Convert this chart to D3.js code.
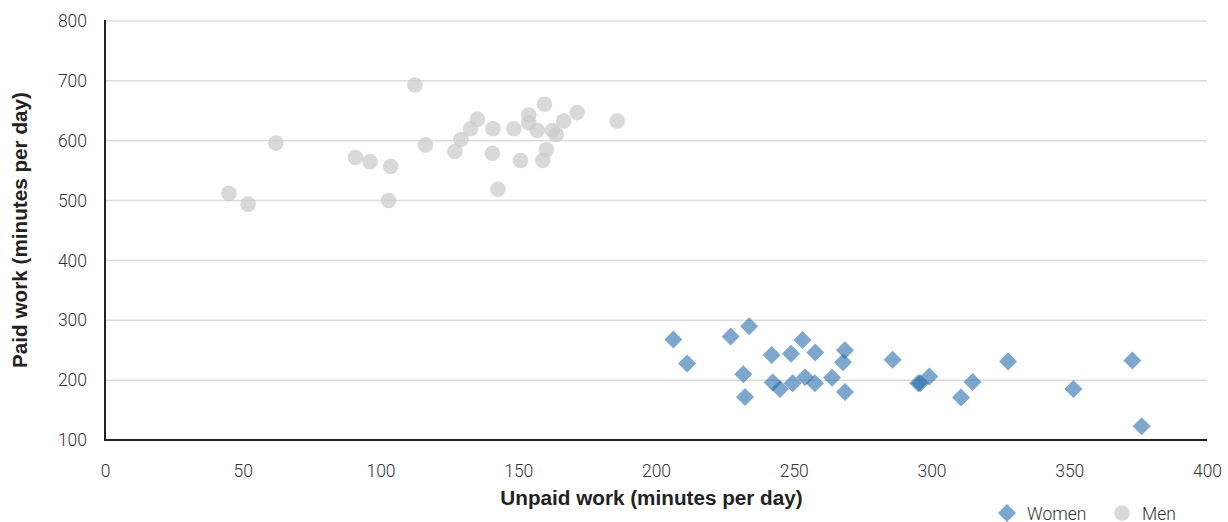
<!DOCTYPE html>
<html>
<head>
<meta charset="utf-8">
<script src="https://cdn.jsdelivr.net/npm/d3@7"></script>
<style>
  html, body { margin: 0; padding: 0; background: #fff; }
  svg { display: block; }
  .tick text { font-family: "Roboto", "Liberation Sans", sans-serif; font-weight: 300; fill: #333; }
</style>
</head>
<body>
<svg id="chart" width="1228" height="522"></svg>
<script>
// ---- data ----
const menUnpaid = [45.0, 51.9, 62.0, 90.9, 96.2, 103.7, 102.9, 112.5, 116.3, 127.0, 129.2, 132.7, 135.2, 140.8, 140.6, 142.6, 148.4, 150.8, 153.8, 153.8, 156.9, 159.5, 160.2, 158.9, 162.4, 163.8, 166.5, 171.4, 185.9];
const menPaid   = [512, 494, 596, 572, 565, 557, 500, 693, 593, 582, 602, 620, 636, 620, 579, 519, 620, 567, 643, 630, 617, 661, 585, 567, 617, 610, 633, 647, 633];
const womenUnpaid = [206.3, 211.3, 227.1, 233.8, 231.7, 232.3, 242.0, 242.4, 245.0, 249.0, 249.6, 253.2, 254.1, 257.8, 257.7, 263.9, 268.6, 267.9, 268.6, 285.9, 295.2, 295.9, 299.2, 310.7, 314.9, 327.8, 351.5, 372.9, 376.3];
const womenPaid   = [268, 228, 273, 290, 210, 172, 242, 196, 185, 244, 195, 267, 205, 246, 195, 204, 250, 230, 180, 234, 195, 195, 206, 171, 197, 231, 185, 233, 123];
const xTicks = [0, 50, 100, 150, 200, 250, 300, 350, 400];
const yTicks = [100, 200, 300, 400, 500, 600, 700, 800];
const seriesNames = ["Women", "Men"];
const xTitle = "Unpaid work (minutes per day)";
const yTitle = "Paid work (minutes per day)";

// ---- layout ----
const svg = d3.select("#chart");
const plotL = 105, plotR = 1207, plotT = 21, plotB = 440;
const x = d3.scaleLinear().domain([0, 400]).range([plotL, plotR]);
const y = d3.scaleLinear().domain([100, 800]).range([plotB, plotT]);

// gridlines
svg.append("g").selectAll("line").data(yTicks.filter(t => t > 100)).join("line")
  .attr("x1", plotL).attr("x2", plotR)
  .attr("y1", d => y(d)).attr("y2", d => y(d))
  .attr("stroke", "#dcdcdc").attr("stroke-width", 1.5);

// y axis
const yAxis = svg.append("g").attr("transform", `translate(${plotL},0)`)
  .call(d3.axisLeft(y).tickValues(yTicks).tickSize(0).tickPadding(18));
yAxis.select(".domain").remove();
yAxis.selectAll("text").attr("font-size", 17.5);

// x axis
const xAxis = svg.append("g").attr("transform", `translate(0,${plotB})`)
  .call(d3.axisBottom(x).tickValues(xTicks).tickSize(0).tickPadding(25));
xAxis.select(".domain").remove();
xAxis.selectAll("text").attr("font-size", 17.5);

// men points
const men = menUnpaid.map((v, i) => ({x: v, y: menPaid[i]}));
svg.append("g").selectAll("circle").data(men).join("circle")
  .attr("cx", d => x(d.x)).attr("cy", d => y(d.y)).attr("r", 7.8)
  .attr("fill", "#c9c9c9").attr("fill-opacity", 0.7);

// women points
const women = womenUnpaid.map((v, i) => ({x: v, y: womenPaid[i]}));
const diamond = d3.symbol().type(d3.symbolSquare).size(162);
svg.append("g").selectAll("path").data(women).join("path")
  .attr("d", diamond)
  .attr("transform", d => `translate(${x(d.x)},${y(d.y)}) rotate(45)`)
  .attr("fill", "#266cac").attr("fill-opacity", 0.6);

// axis lines
svg.append("line").attr("x1", plotL).attr("x2", plotL).attr("y1", plotT - 1).attr("y2", plotB + 1)
  .attr("stroke", "#222").attr("stroke-width", 2);
svg.append("line").attr("x1", plotL - 1).attr("x2", plotR).attr("y1", plotB).attr("y2", plotB)
  .attr("stroke", "#222").attr("stroke-width", 2);

// axis titles
svg.append("text").text(xTitle)
  .attr("x", 651.5).attr("y", 505)
  .attr("text-anchor", "middle")
  .attr("font-family", "Liberation Sans, Arial, sans-serif").attr("font-weight", "bold")
  .attr("font-size", 20.7).attr("fill", "#222");
svg.append("text").text(yTitle)
  .attr("transform", `translate(27,230) rotate(-90)`)
  .attr("text-anchor", "middle")
  .attr("font-family", "Liberation Sans, Arial, sans-serif").attr("font-weight", "bold")
  .attr("font-size", 20.7).attr("fill", "#222");

// legend
const lg = svg.append("g");
lg.append("path").attr("d", diamond)
  .attr("transform", `translate(1007,513) rotate(45)`)
  .attr("fill", "#266cac").attr("fill-opacity", 0.6);
lg.append("text").text(seriesNames[0]).attr("x", 1027).attr("y", 519.5)
  .attr("font-family", "Roboto, Liberation Sans, sans-serif").attr("font-weight", 300)
  .attr("font-size", 17.5).attr("fill", "#333");
lg.append("circle").attr("cx", 1122).attr("cy", 513).attr("r", 7.8)
  .attr("fill", "#c9c9c9").attr("fill-opacity", 0.7);
lg.append("text").text(seriesNames[1]).attr("x", 1142).attr("y", 519.5)
  .attr("font-family", "Roboto, Liberation Sans, sans-serif").attr("font-weight", 300)
  .attr("font-size", 17.5).attr("fill", "#333");
</script>
</body>
</html>
